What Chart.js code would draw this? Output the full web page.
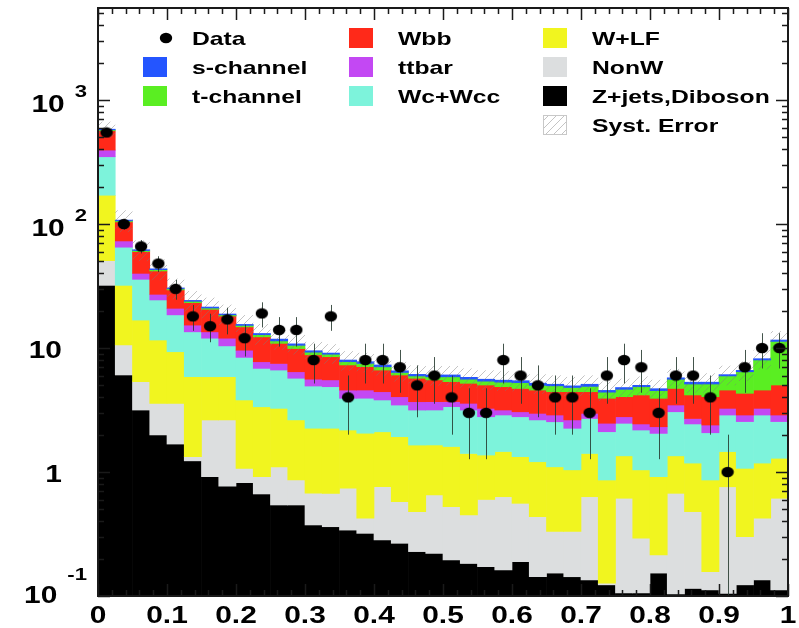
<!DOCTYPE html>
<html>
<head>
<meta charset="utf-8">
<title>Discriminant output</title>
<script src="https://cdn.jsdelivr.net/npm/chart.js@4.4.1/dist/chart.umd.min.js"></script>
<style>
  html, body { margin: 0; padding: 0; background: #ffffff; }
  #plot { display: block; }
</style>
</head>
<body>
<canvas id="plot" width="799" height="628"></canvas>
<script>
// ---- histogram binning (40 equal bins on [0, 1]) ----
const xLow = 0, xHigh = 1;

// observed events per bin
const dataCounts = [547, 100, 66, 48, 30, 18, 15, 17, 12, 19,
                    14, 14, 8, 18, 4, 8, 8, 7, 5, 6,
                    4, 3, 3, 8, 6, 5, 4, 4, 3, 6,
                    8, 7, 3, 6, 6, 4, 1, 7, 10, 10];

// predicted events per bin, one array per process (stacked bottom to top)
const zjetsDiboson = [32, 6.06, 3.16, 1.99, 1.68, 1.23, 0.917, 0.77, 0.82, 0.665,
                      0.542, 0.542, 0.374, 0.362, 0.34, 0.32, 0.283, 0.266, 0.228, 0.221,
                      0.195, 0.183, 0.172, 0.162, 0.189, 0.143, 0.153, 0.143, 0.135, 0.123,
                      0.106, 0.106, 0.153, 0.104, 0.115, 0.112, 0.105, 0.123, 0.135, 0.112];
const nonW = [18.6, 4.54, 2.19, 1.59, 1.90, 0.10, 1.71, 1.86, 0.25, 0.252,
              0.558, 0.32, 0.30, 0.311, 0.40, 0.104, 0.477, 0.31, 0.251, 0.431,
              0.33, 0.267, 0.428, 0.47, 0.37, 0.293, 0.178, 0.188, 0.497, 0.004,
              0.508, 0.186, 0.061, 0.569, 0.364, 0.045, 0.655, 0.178, 0.289, 0.502];
const wLightFlavour = [120, 21.4, 11.45, 8.02, 5.75, 4.54, 3.24, 3.24, 2.74, 2.44,
                       2.16, 1.77, 1.58, 1.58, 1.44, 1.63, 1.35, 1.35, 1.17, 1.0,
                       1.08, 0.96, 0.77, 0.83, 0.77, 0.774, 0.77, 0.71, 0.778, 0.735,
                       0.736, 0.748, 0.703, 0.677, 0.701, 0.705, 0.70, 0.769, 0.756, 0.676];
const wcWcc = [178, 33, 19.0, 12.8, 9.17, 7.63, 6.13, 4.53, 4.59, 3.49,
               3.38, 3.07, 2.68, 2.62, 1.75, 1.88, 1.70, 1.54, 1.51, 1.51,
               1.76, 1.75, 1.42, 1.42, 1.46, 1.42, 1.44, 1.21, 1.29, 1.25,
               1.12, 1.14, 1.13, 1.71, 1.26, 1.21, 1.42, 1.48, 1.70, 1.26];
const ttbar = [46, 8, 4.2, 2.7, 2.4, 1.8, 1.5, 1.6, 1.2, 0.9,
               0.86, 0.73, 0.67, 0.66, 0.65, 0.65, 0.63, 0.58, 0.53, 0.53,
               0.33, 0.42, 0.47, 0.28, 0.27, 0.34, 0.34, 0.38, 0.27, 0.36,
               0.32, 0.26, 0.27, 0.41, 0.26, 0.32, 0.38, 0.33, 0.38, 0.33];
const wbb = [170, 31, 19.8, 14.7, 8.5, 7.9, 7.0, 6.1, 5.2, 4.55,
             3.4, 3.47, 3.2, 2.97, 2.72, 2.49, 2.2, 2.01, 2.01, 1.84,
             1.66, 1.61, 1.77, 1.71, 1.66, 1.61, 1.56, 1.81, 1.47, 1.46,
             1.26, 1.74, 1.61, 1.25, 1.48, 1.66, 1.32, 1.43, 1.32, 2.15];
const tChannel = [10, 2, 1.2, 1.0, 0.6, 0.6, 0.5, 0.4, 0.4, 0.5,
                  0.5, 0.6, 0.45, 0.4, 0.45, 0.43, 0.41, 0.29, 0.25, 0.32,
                  0.5, 0.41, 0.37, 0.43, 0.53, 0.42, 0.51, 0.36, 0.46, 0.47,
                  0.59, 0.69, 0.6, 0.87, 0.94, 1.07, 1.37, 2.12, 3.42, 6.27];
const sChannel = [7, 1.5, 1.0, 0.7, 0.5, 0.4, 0.4, 0.3, 0.3, 0.3,
                  0.4, 0.3, 0.25, 0.2, 0.25, 0.25, 0.25, 0.2, 0.18, 0.21,
                  0.21, 0.2, 0.2, 0.2, 0.2, 0.2, 0.15, 0.15, 0.2, 0.15,
                  0.16, 0.13, 0.17, 0.16, 0.18, 0.18, 0.15, 0.17, 0.2, 0.3];

// relative systematic uncertainty on the total prediction
const systRelative = [0.15, 0.20, 0.19, 0.19, 0.19, 0.19, 0.19, 0.19, 0.19, 0.19,
                      0.18, 0.18, 0.18, 0.18, 0.18, 0.18, 0.18, 0.18, 0.18, 0.18,
                      0.18, 0.18, 0.18, 0.18, 0.18, 0.18, 0.18, 0.18, 0.18, 0.18,
                      0.18, 0.18, 0.18, 0.18, 0.18, 0.18, 0.18, 0.18, 0.18, 0.18];

// axis ranges and tick labels
const yMin = 0.1, yMax = 5520;
const xTickValues = [0, 0.1, 0.2, 0.3, 0.4, 0.5, 0.6, 0.7, 0.8, 0.9, 1];
const xTickLabels = ['0', '0.1', '0.2', '0.3', '0.4', '0.5', '0.6', '0.7', '0.8', '0.9', '1'];
const yTickValues = [0.1, 1, 10, 100, 1000];
const yTickBases = ['10', '1', '10', '10', '10'];
const yTickExponents = ['-1', '', '', '2', '3'];

// ---- derived quantities ----
const nBins = dataCounts.length;
const binWidth = (xHigh - xLow) / nBins;
const binCenters = dataCounts.map((_, i) => xLow + (i + 0.5) * binWidth);

const components = [
  { label: 'Z+jets,Diboson', values: zjetsDiboson,  color: '#000000' },
  { label: 'NonW',           values: nonW,          color: '#dcdedf' },
  { label: 'W+LF',           values: wLightFlavour, color: '#f1f51f' },
  { label: 'Wc+Wcc',         values: wcWcc,         color: '#7df3db' },
  { label: 'ttbar',          values: ttbar,         color: '#c348f3' },
  { label: 'Wbb',            values: wbb,           color: '#ff2919' },
  { label: 't-channel',      values: tChannel,      color: '#5aee22' },
  { label: 's-channel',      values: sChannel,      color: '#2455ff' }
];

const FONT = '"Liberation Sans", Arial, Helvetica, sans-serif';
const TEXT_STRETCH = 1.3;

// running sum of the stack: each process is a floating bar [below, below + value]
const running = new Array(nBins).fill(0);
const stackDatasets = components.map(c => {
  const data = c.values.map((v, i) => {
    const lo = running[i] > 0 ? running[i] : yMin / 10;
    running[i] += v;
    return { x: binCenters[i], y: [lo, running[i]] };
  });
  return {
    type: 'bar', label: c.label, data,
    backgroundColor: c.color, borderWidth: 0,
    grouped: false, barPercentage: 1, categoryPercentage: 1
  };
});
const totals = running.slice();

// diagonal hatch used for the systematic band
function makeHatch(color) {
  const s = 8;
  const c = document.createElement('canvas');
  c.width = s; c.height = s;
  const g = c.getContext('2d');
  g.strokeStyle = color; g.lineWidth = 1;
  g.beginPath();
  g.moveTo(0, s); g.lineTo(s, 0);
  g.moveTo(-1, 1); g.lineTo(1, -1);
  g.moveTo(s - 1, s + 1); g.lineTo(s + 1, s - 1);
  g.stroke();
  return g.createPattern(c, 'repeat');
}
const hatchFill = makeHatch('rgba(125,125,125,0.45)');

// filled ellipse used as the data marker
function makeDot() {
  const c = document.createElement('canvas');
  c.width = 14; c.height = 12;
  const g = c.getContext('2d');
  g.fillStyle = '#000';
  g.beginPath(); g.ellipse(7, 6, 6.2, 5.2, 0, 0, Math.PI * 2); g.fill();
  return c;
}
const dotMarker = makeDot();

const systDataset = {
  type: 'bar', label: 'Syst. Error',
  data: totals.map((t, i) => ({ x: binCenters[i], y: [t * (1 - systRelative[i]), t * (1 + systRelative[i])] })),
  backgroundColor: hatchFill, borderWidth: 0, inflateAmount: 0,
  grouped: false, barPercentage: 1, categoryPercentage: 1
};

const dataDataset = {
  type: 'scatter', label: 'Data',
  data: dataCounts.map((n, i) => ({ x: binCenters[i], y: n })),
  pointStyle: dotMarker, pointRadius: 6, showLine: false
};

// index 0 is painted last, so it ends up on top
const datasets = [dataDataset, systDataset, ...stackDatasets.slice().reverse()];
const SYST_INDEX = 1;

// ---- drawing helpers ----
function stretchedText(ctx, text, x, y, px, align) {
  ctx.save();
  ctx.font = 'bold ' + px + 'px ' + FONT;
  ctx.textBaseline = 'alphabetic';
  ctx.textAlign = 'left';
  const w = ctx.measureText(text).width * TEXT_STRETCH;
  const x0 = align === 'right' ? x - w : (align === 'center' ? x - w / 2 : x);
  ctx.translate(x0, y);
  ctx.scale(TEXT_STRETCH, 1);
  ctx.fillStyle = '#000';
  ctx.fillText(text, 0, 0);
  ctx.restore();
  return w;
}

function drawErrorBars(chart) {
  const ctx = chart.ctx, xs = chart.scales.x, ys = chart.scales.y, a = chart.chartArea;
  ctx.save();
  ctx.beginPath(); ctx.rect(a.left, a.top, a.right - a.left, a.bottom - a.top); ctx.clip();
  ctx.strokeStyle = 'rgba(35,55,45,0.85)';
  ctx.lineWidth = 1;
  dataCounts.forEach((n, i) => {
    const err = Math.sqrt(n);
    const x = Math.round(xs.getPixelForValue(binCenters[i])) + 0.5;
    const yHi = ys.getPixelForValue(n + err);
    const yLo = n - err > 0 ? ys.getPixelForValue(n - err) : a.bottom;
    ctx.beginPath(); ctx.moveTo(x, yHi); ctx.lineTo(x, yLo); ctx.stroke();
  });
  ctx.restore();
}

function drawFrameAndAxes(chart) {
  const ctx = chart.ctx, xs = chart.scales.x, ys = chart.scales.y, a = chart.chartArea;
  ctx.save();
  ctx.strokeStyle = '#1a1a1a';
  ctx.lineWidth = 1.5;
  // ticks on the log axes (left and right)
  for (let d = -1; d <= 3; d++) {
    for (let k = 1; k <= 9; k++) {
      const v = k * Math.pow(10, d);
      if (v < yMin || v > yMax) continue;
      const y = Math.round(ys.getPixelForValue(v)) + 0.5;
      const len = k === 1 ? 12 : 6;
      ctx.beginPath();
      ctx.moveTo(a.left, y); ctx.lineTo(a.left + len, y);
      ctx.moveTo(a.right, y); ctx.lineTo(a.right - len, y);
      ctx.stroke();
    }
  }
  // ticks on the linear axes (bottom and top)
  for (let i = 0; i <= 50; i++) {
    const x = Math.round(xs.getPixelForValue(xLow + i * 0.02)) + 0.5;
    const len = i % 5 === 0 ? 12 : 6;
    ctx.beginPath();
    ctx.moveTo(x, a.bottom); ctx.lineTo(x, a.bottom - len);
    ctx.moveTo(x, a.top); ctx.lineTo(x, a.top + len);
    ctx.stroke();
  }
  // frame
  ctx.lineWidth = 2;
  ctx.strokeRect(a.left, a.top, a.right - a.left, a.bottom - a.top);
  ctx.restore();

  // x tick labels
  xTickValues.forEach((v, i) => {
    stretchedText(ctx, xTickLabels[i], xs.getPixelForValue(v), 623, 23, 'center');
  });

  // y tick labels (powers of ten)
  yTickValues.forEach((v, i) => {
    const y = ys.getPixelForValue(v);
    const base = yTickBases[i], exp = yTickExponents[i];
    if (!exp) {
      stretchedText(ctx, base, 62, y + 10, 23, 'right');
    } else {
      const atFloor = v === yMin;
      const baseY = atFloor ? y + 7 : y + 12;
      const expY = atFloor ? baseY - 23 : baseY - 15;
      ctx.save();
      ctx.font = 'bold 17px ' + FONT;
      const ew = ctx.measureText(exp).width * TEXT_STRETCH;
      ctx.restore();
      const expLeft = 87 - ew;
      stretchedText(ctx, exp, expLeft, expY, 17, 'left');
      stretchedText(ctx, base, expLeft - 10, baseY, 23, 'right');
    }
  });
}

function drawLegend(chart) {
  const ctx = chart.ctx;
  const rowBase = [45, 74, 103, 132];
  const boxTop = [28, 57, 86, 115];
  const cols = [
    { box: 143, text: 192, items: ['Data', 's-channel', 't-channel'] },
    { box: 349, text: 398, items: ['Wbb', 'ttbar', 'Wc+Wcc'] },
    { box: 543, text: 592, items: ['W+LF', 'NonW', 'Z+jets,Diboson', 'Syst. Error'] }
  ];
  const colorOf = {};
  components.forEach(c => { colorOf[c.label] = c.color; });
  cols.forEach(col => {
    col.items.forEach((label, r) => {
      if (label === 'Data') {
        ctx.drawImage(dotMarker, 166 - 7, 38 - 6);
      } else if (label === 'Syst. Error') {
        ctx.save();
        ctx.fillStyle = hatchFill;
        ctx.fillRect(col.box, boxTop[r], 24, 20);
        ctx.strokeStyle = '#c8c8c8'; ctx.lineWidth = 1;
        ctx.strokeRect(col.box + 0.5, boxTop[r] + 0.5, 23, 19);
        ctx.restore();
      } else {
        ctx.fillStyle = colorOf[label];
        ctx.fillRect(col.box, boxTop[r], 24, 20);
      }
      stretchedText(ctx, label, col.text, rowBase[r], 19, 'left');
    });
  });
}

const rootStyle = {
  id: 'rootStyle',
  afterDatasetDraw(chart, args) {
    if (args.index === SYST_INDEX) drawErrorBars(chart);
  },
  afterDraw(chart) {
    drawFrameAndAxes(chart);
    drawLegend(chart);
  }
};

new Chart(document.getElementById('plot'), {
  type: 'bar',
  data: { datasets },
  options: {
    responsive: false,
    animation: false,
    devicePixelRatio: 1,
    events: [],
    layout: { padding: { left: 98, right: 11, top: 8, bottom: 32 } },
    plugins: { legend: { display: false }, tooltip: { enabled: false } },
    scales: {
      x: { type: 'linear', min: xLow, max: xHigh, offset: false, display: false },
      y: { type: 'logarithmic', min: yMin, max: yMax, display: false }
    }
  },
  plugins: [rootStyle]
});
</script>
</body>
</html>
